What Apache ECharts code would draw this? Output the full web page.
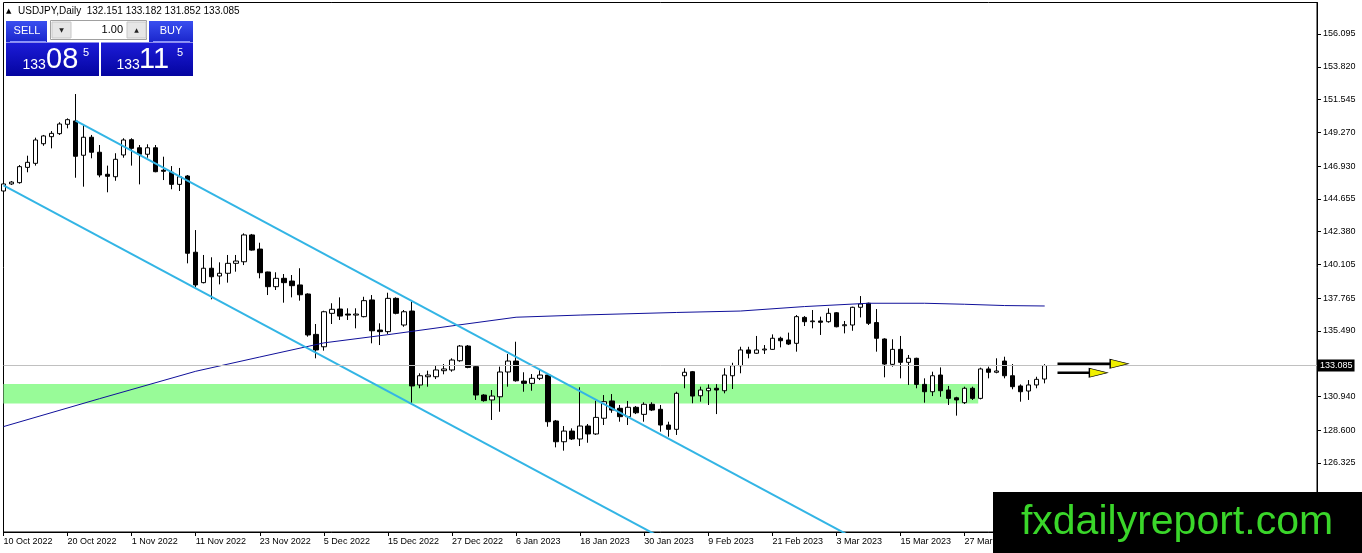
<!DOCTYPE html>
<html><head><meta charset="utf-8">
<script src="https://cdn.jsdelivr.net/npm/echarts@6/dist/echarts.min.js"></script>
<style>html,body{margin:0;padding:0;background:#fff}#c{width:1362px;height:553px}</style>
</head><body><div id="c"></div>
<script>
const dates = [
'10 Oct 2022','11 Oct 2022','12 Oct 2022','13 Oct 2022','14 Oct 2022','17 Oct 2022','18 Oct 2022','19 Oct 2022','20 Oct 2022','21 Oct 2022','24 Oct 2022','25 Oct 2022','26 Oct 2022','27 Oct 2022','28 Oct 2022','31 Oct 2022',
'1 Nov 2022','2 Nov 2022','3 Nov 2022','4 Nov 2022','7 Nov 2022','8 Nov 2022','9 Nov 2022','10 Nov 2022','11 Nov 2022','14 Nov 2022','15 Nov 2022','16 Nov 2022','17 Nov 2022','18 Nov 2022','21 Nov 2022','22 Nov 2022','23 Nov 2022','24 Nov 2022','25 Nov 2022','28 Nov 2022','29 Nov 2022','30 Nov 2022',
'1 Dec 2022','2 Dec 2022','5 Dec 2022','6 Dec 2022','7 Dec 2022','8 Dec 2022','9 Dec 2022','12 Dec 2022','13 Dec 2022','14 Dec 2022','15 Dec 2022','16 Dec 2022','19 Dec 2022','20 Dec 2022','21 Dec 2022','22 Dec 2022','23 Dec 2022','26 Dec 2022','27 Dec 2022','28 Dec 2022','29 Dec 2022','30 Dec 2022',
'2 Jan 2023','3 Jan 2023','4 Jan 2023','5 Jan 2023','6 Jan 2023','9 Jan 2023','10 Jan 2023','11 Jan 2023','12 Jan 2023','13 Jan 2023','16 Jan 2023','17 Jan 2023','18 Jan 2023','19 Jan 2023','20 Jan 2023','23 Jan 2023','24 Jan 2023','25 Jan 2023','26 Jan 2023','27 Jan 2023','30 Jan 2023','31 Jan 2023',
'1 Feb 2023','2 Feb 2023','3 Feb 2023','6 Feb 2023','7 Feb 2023','8 Feb 2023','9 Feb 2023','10 Feb 2023','13 Feb 2023','14 Feb 2023','15 Feb 2023','16 Feb 2023','17 Feb 2023','20 Feb 2023','21 Feb 2023','22 Feb 2023','23 Feb 2023','24 Feb 2023','27 Feb 2023','28 Feb 2023',
'1 Mar 2023','2 Mar 2023','3 Mar 2023','6 Mar 2023','7 Mar 2023','8 Mar 2023','9 Mar 2023','10 Mar 2023','13 Mar 2023','14 Mar 2023','15 Mar 2023','16 Mar 2023','17 Mar 2023','20 Mar 2023','21 Mar 2023','22 Mar 2023','23 Mar 2023','24 Mar 2023','27 Mar 2023','28 Mar 2023','29 Mar 2023','30 Mar 2023','31 Mar 2023',
'3 Apr 2023','4 Apr 2023','5 Apr 2023','6 Apr 2023','7 Apr 2023','10 Apr 2023'];

const open = [145.20,145.69,145.78,146.84,147.12,148.48,148.97,149.18,149.83,150.06,147.68,148.93,147.89,146.36,146.19,147.70,148.76,148.20,147.75,148.20,146.64,146.50,145.66,146.24,140.95,138.84,139.84,139.30,139.49,140.18,140.29,142.15,141.17,139.58,138.56,139.14,138.95,138.68,138.05,135.25,134.39,136.71,137.01,136.66,136.59,136.48,137.64,135.55,135.44,137.75,135.90,136.87,131.74,132.31,132.31,132.73,132.78,133.42,134.44,133.01,131.04,130.70,130.92,132.64,133.40,132.01,131.85,132.20,132.43,129.24,127.80,128.54,127.99,128.89,128.34,129.43,130.63,130.12,129.54,130.19,129.70,130.40,130.05,128.96,128.66,132.38,132.66,130.99,131.34,131.51,131.34,132.38,133.08,134.17,133.94,134.17,134.21,134.98,134.86,134.63,136.43,136.13,136.18,136.13,136.75,135.85,135.90,137.13,137.41,136.07,134.93,133.17,134.21,133.31,133.59,131.78,131.27,132.43,131.39,130.85,130.51,131.51,130.81,132.85,132.62,133.40,132.38,131.67,131.32,131.74,132.151];
const close = [145.69,145.82,146.89,147.19,148.74,149.02,149.20,149.85,150.15,147.61,148.93,147.89,146.31,146.22,147.40,148.74,148.16,147.75,148.20,146.54,146.57,145.66,146.19,140.88,138.68,139.84,139.25,139.49,140.18,140.34,142.15,141.10,139.53,138.56,139.14,138.84,138.63,138.00,135.21,134.17,136.82,136.99,136.52,136.59,136.66,137.59,135.50,135.44,137.75,136.71,136.82,131.67,132.38,132.43,132.78,132.85,133.47,134.44,132.96,131.04,130.65,130.97,132.64,133.40,132.03,131.85,132.20,132.43,129.19,127.80,128.54,127.99,128.89,128.34,129.49,130.58,130.00,129.54,130.19,129.81,130.40,130.00,128.96,128.66,131.16,132.62,130.97,131.39,131.51,131.39,132.43,133.08,134.17,133.94,134.17,134.23,134.98,134.81,134.58,136.48,136.13,136.18,136.09,136.71,135.78,135.92,137.13,137.36,136.02,134.98,133.19,134.21,133.31,133.59,131.78,131.27,132.38,131.34,130.81,130.70,131.51,130.81,132.85,132.62,132.71,132.38,131.62,131.27,131.74,132.13,133.085];
const low = [145.06,145.62,145.71,146.50,146.96,148.34,148.16,149.09,149.55,146.12,145.50,147.47,146.15,145.11,145.91,147.51,146.96,145.66,147.51,146.50,145.96,145.32,145.20,140.18,138.54,138.79,137.68,138.72,138.84,139.60,140.06,141.06,139.14,137.98,138.33,137.45,137.82,137.59,135.09,133.59,134.12,135.97,136.25,136.25,135.67,136.43,134.63,134.51,135.28,136.64,135.78,130.51,131.51,131.62,132.15,132.48,132.66,133.35,132.90,130.70,130.58,129.31,129.88,131.62,131.97,131.27,131.34,132.08,128.84,127.41,127.18,127.92,127.50,127.73,128.27,128.96,129.81,129.19,128.96,129.72,129.19,129.93,128.50,128.15,128.27,131.51,130.47,130.58,130.35,129.72,131.16,131.46,132.55,133.59,133.89,133.89,134.17,134.35,134.51,134.05,135.83,135.67,135.21,136.06,135.74,135.32,135.50,136.43,135.90,134.05,132.27,133.01,132.20,131.74,131.51,130.51,130.97,130.92,130.35,129.61,130.42,130.70,130.74,132.20,132.55,132.20,131.44,130.58,130.70,131.51,131.852];
const high = [145.82,145.89,147.00,147.65,148.90,149.09,149.36,149.97,150.24,151.93,149.78,149.09,148.39,146.96,147.82,148.86,148.86,148.39,148.44,148.39,147.58,146.93,146.80,146.31,142.49,140.76,140.60,140.25,140.76,140.76,142.26,142.22,141.61,139.60,139.56,139.44,139.37,139.84,138.10,135.97,136.89,137.41,137.82,137.06,137.06,137.86,137.98,136.02,138.14,137.82,136.94,137.52,132.55,132.73,133.08,133.19,133.59,134.51,134.51,133.12,131.10,131.39,133.01,133.89,134.74,132.62,132.50,132.78,132.55,129.31,128.89,128.73,131.58,129.03,130.65,131.04,131.11,130.35,130.63,130.28,130.54,130.54,130.35,129.19,131.27,132.90,132.71,131.62,131.78,131.80,132.90,133.28,134.39,134.39,135.14,134.51,135.25,135.09,135.37,136.59,136.52,136.94,136.48,137.06,136.80,136.18,137.17,137.91,137.45,137.01,134.98,134.91,135.14,133.82,133.63,132.20,132.66,132.96,131.67,130.92,131.62,131.62,132.94,133.01,133.59,133.70,133.19,131.78,132.08,132.31,133.182];

const yTicks = [156.095,153.820,151.545,149.270,146.930,144.655,142.380,140.105,137.765,135.490,130.940,128.600,126.325];
const maIdx = [0,12,24,32,40,48,56,64,72,84,92,100,108,115,120,125,130];
const maVal = [128.85,130.79,132.69,133.68,134.66,135.23,135.84,136.44,136.59,136.77,136.87,137.18,137.41,137.41,137.34,137.25,137.22];
const channelUpper = [[9,150.09],[120,116.99]];
const channelLower = [[0,145.59],[90,118.80]];
const zoneTop = 131.80, zoneBottom = 130.45, zoneEndIdx = 121.7;
const lastPrice = 133.085;
const arrowLines = [[[131.6,133.21],[138.4,133.21]], [[131.6,132.59],[135.7,132.59]]];
const arrowHeads = [[139.3,133.21],[136.7,132.59]];
const headerText = 'USDJPY,Daily  132.151 133.182 131.852 133.085';

const SLOTS = 165;
const cats = dates.slice();
while (cats.length < SLOTS) cats.push('');
const ohlc = open.map((o,i)=>[o, close[i], low[i], high[i]]);

const FONT = '"Liberation Sans", Arial, sans-serif';
const btnGrad = {type:'linear',x:0,y:0,x2:0,y2:1,colorStops:[{offset:0,color:'#3a4ff0'},{offset:1,color:'#1a26cc'}]};
const boxGrad = {type:'linear',x:0,y:0,x2:0,y2:1,colorStops:[{offset:0,color:'#1c1cd8'},{offset:1,color:'#0404a0'}]};

const chart = echarts.init(document.getElementById('c'));
const labelShow = (i)=> i % 8 === 0 && i <= 120;
chart.setOption({
  animation:false,
  backgroundColor:'#fff',
  grid:{left:3.5, top:2.5, width:1313.5, height:529.5, show:true, borderColor:'#000', borderWidth:1, backgroundColor:'#fff'},
  xAxis:[{
    type:'category', data:cats, boundaryGap:false,
    axisLine:{show:true, lineStyle:{color:'#000', width:1}},
    axisTick:{show:true, inside:false, interval:labelShow, length:4, lineStyle:{color:'#000'}},
    axisLabel:{interval:labelShow, align:'left', color:'#000', fontSize:9, fontFamily:FONT, margin:5},
    splitLine:{show:false}
  },{
    type:'value', min:0, max:SLOTS-1, show:false, splitLine:{show:false}
  }],
  yAxis:{
    type:'value', position:'right', min:121.536, max:158.281, scale:true,
    axisLine:{show:true, onZero:false, lineStyle:{color:'#000', width:1}},
    axisTick:{show:true, inside:false, length:4, customValues:yTicks, lineStyle:{color:'#000'}},
    axisLabel:{customValues:yTicks, inside:false, formatter:(v)=>v.toFixed(3), color:'#000', fontSize:9, fontFamily:FONT, margin:6},
    splitLine:{show:false}
  },
  series:[
    {type:'line', xAxisIndex:1, data:[], z:1, silent:true,
     markArea:{silent:true, itemStyle:{color:'#98fb98', opacity:1},
       data:[[{xAxis:0, yAxis:zoneTop},{xAxis:zoneEndIdx, yAxis:zoneBottom}]]}},
    {type:'candlestick', data:ohlc, barWidth:5, z:2,
     itemStyle:{color:'#fff', color0:'#000', borderColor:'#000', borderColor0:'#000', borderWidth:1},
     markLine:{silent:true, symbol:['none','none'], animation:false,
       lineStyle:{color:'#c0c0c0', width:1, type:'solid'},
       label:{position:'end', formatter:lastPrice.toFixed(3), backgroundColor:'#000', color:'#fff', fontSize:9, fontFamily:FONT, padding:[2,2,1,2], distance:1},
       data:[{yAxis:lastPrice}]}},
    {type:'line', xAxisIndex:1, data:maIdx.map((x,i)=>[x,maVal[i]]), symbol:'none', z:3,
     lineStyle:{color:'#10109a', width:1}},
    {type:'line', xAxisIndex:1, data:channelUpper, symbol:'none', z:4, lineStyle:{color:'#33b5e5', width:2}},
    {type:'line', xAxisIndex:1, data:channelLower, symbol:'none', z:4, lineStyle:{color:'#33b5e5', width:2}},
    {type:'line', xAxisIndex:1, data:arrowLines[0], symbol:'none', z:5, lineStyle:{color:'#000', width:2.5}},
    {type:'line', xAxisIndex:1, data:arrowLines[1], symbol:'none', z:5, lineStyle:{color:'#000', width:2.5}},
    {type:'scatter', xAxisIndex:1, data:arrowHeads, z:6, symbol:'path://M0,0L18,4.5L0,9Z', symbolSize:[18,9],
     itemStyle:{color:'#f0f000', borderColor:'#000', borderWidth:1, opacity:1}}
  ],
  graphic:[
    {type:'text', z:100, style:{text:'▲', x:6, y:11, fill:'#000', font:'7px "DejaVu Sans"', textVerticalAlign:'middle'}},
    {type:'text', z:100, style:{text:headerText, x:18, y:11, fill:'#000', font:'10px '+FONT, textVerticalAlign:'middle'}},
    {type:'rect', z:100, shape:{x:6, y:21, width:41, height:21}, style:{fill:btnGrad}},
    {type:'line', z:101, shape:{x1:10, y1:41.5, x2:46, y2:41.5}, style:{stroke:'#8c96ff', lineWidth:1}},
    {type:'text', z:101, style:{text:'SELL', x:27, y:30.5, fill:'#fff', font:'11px '+FONT, textAlign:'center', textVerticalAlign:'middle'}},
    {type:'rect', z:100, shape:{x:50.5, y:20.5, width:96, height:19}, style:{fill:'#fff', stroke:'#a0a0a0', lineWidth:1}},
    {type:'rect', z:101, shape:{x:52, y:22, width:19, height:16}, style:{fill:'#e6e6e6', stroke:'#c8c8c8', lineWidth:1}},
    {type:'rect', z:101, shape:{x:127, y:22, width:19, height:16}, style:{fill:'#e6e6e6', stroke:'#c8c8c8', lineWidth:1}},
    {type:'text', z:102, style:{text:'▼', x:61.5, y:30, fill:'#222', font:'6px "DejaVu Sans"', textAlign:'center', textVerticalAlign:'middle'}},
    {type:'text', z:102, style:{text:'▲', x:136.5, y:30, fill:'#222', font:'6px "DejaVu Sans"', textAlign:'center', textVerticalAlign:'middle'}},
    {type:'text', z:102, style:{text:'1.00', x:123, y:30, fill:'#000', font:'11px '+FONT, textAlign:'right', textVerticalAlign:'middle'}},
    {type:'rect', z:100, shape:{x:149, y:21, width:44, height:21}, style:{fill:btnGrad}},
    {type:'line', z:101, shape:{x1:153, y1:41.5, x2:190, y2:41.5}, style:{stroke:'#8c96ff', lineWidth:1}},
    {type:'text', z:101, style:{text:'BUY', x:171, y:30.5, fill:'#fff', font:'11px '+FONT, textAlign:'center', textVerticalAlign:'middle'}},
    {type:'rect', z:100, shape:{x:6, y:42.5, width:93, height:33.5}, style:{fill:boxGrad}},
    {type:'rect', z:100, shape:{x:101, y:42.5, width:92, height:33.5}, style:{fill:boxGrad}},
    {type:'text', z:101, style:{text:'133', x:22.5, y:72, fill:'#fff', font:'14px '+FONT, textVerticalAlign:'bottom'}},
    {type:'text', z:101, style:{text:'08', x:46, y:74, fill:'#fff', font:'29px '+FONT, textVerticalAlign:'bottom'}},
    {type:'text', z:101, style:{text:'5', x:83, y:58, fill:'#fff', font:'11px '+FONT, textVerticalAlign:'bottom'}},
    {type:'text', z:101, style:{text:'133', x:116.5, y:72, fill:'#fff', font:'14px '+FONT, textVerticalAlign:'bottom'}},
    {type:'text', z:101, style:{text:'11', x:139, y:74, fill:'#fff', font:'29px '+FONT, textVerticalAlign:'bottom'}},
    {type:'text', z:101, style:{text:'5', x:177, y:58, fill:'#fff', font:'11px '+FONT, textVerticalAlign:'bottom'}},
    {type:'rect', z:110, shape:{x:993, y:492, width:369, height:61}, style:{fill:'#000'}},
    {type:'text', z:111, style:{text:'fxdailyreport.com', x:1177, y:523, fill:'#3ad62a', font:'41px '+FONT, textAlign:'center', textVerticalAlign:'middle'}}
  ]
});
</script></body></html>
